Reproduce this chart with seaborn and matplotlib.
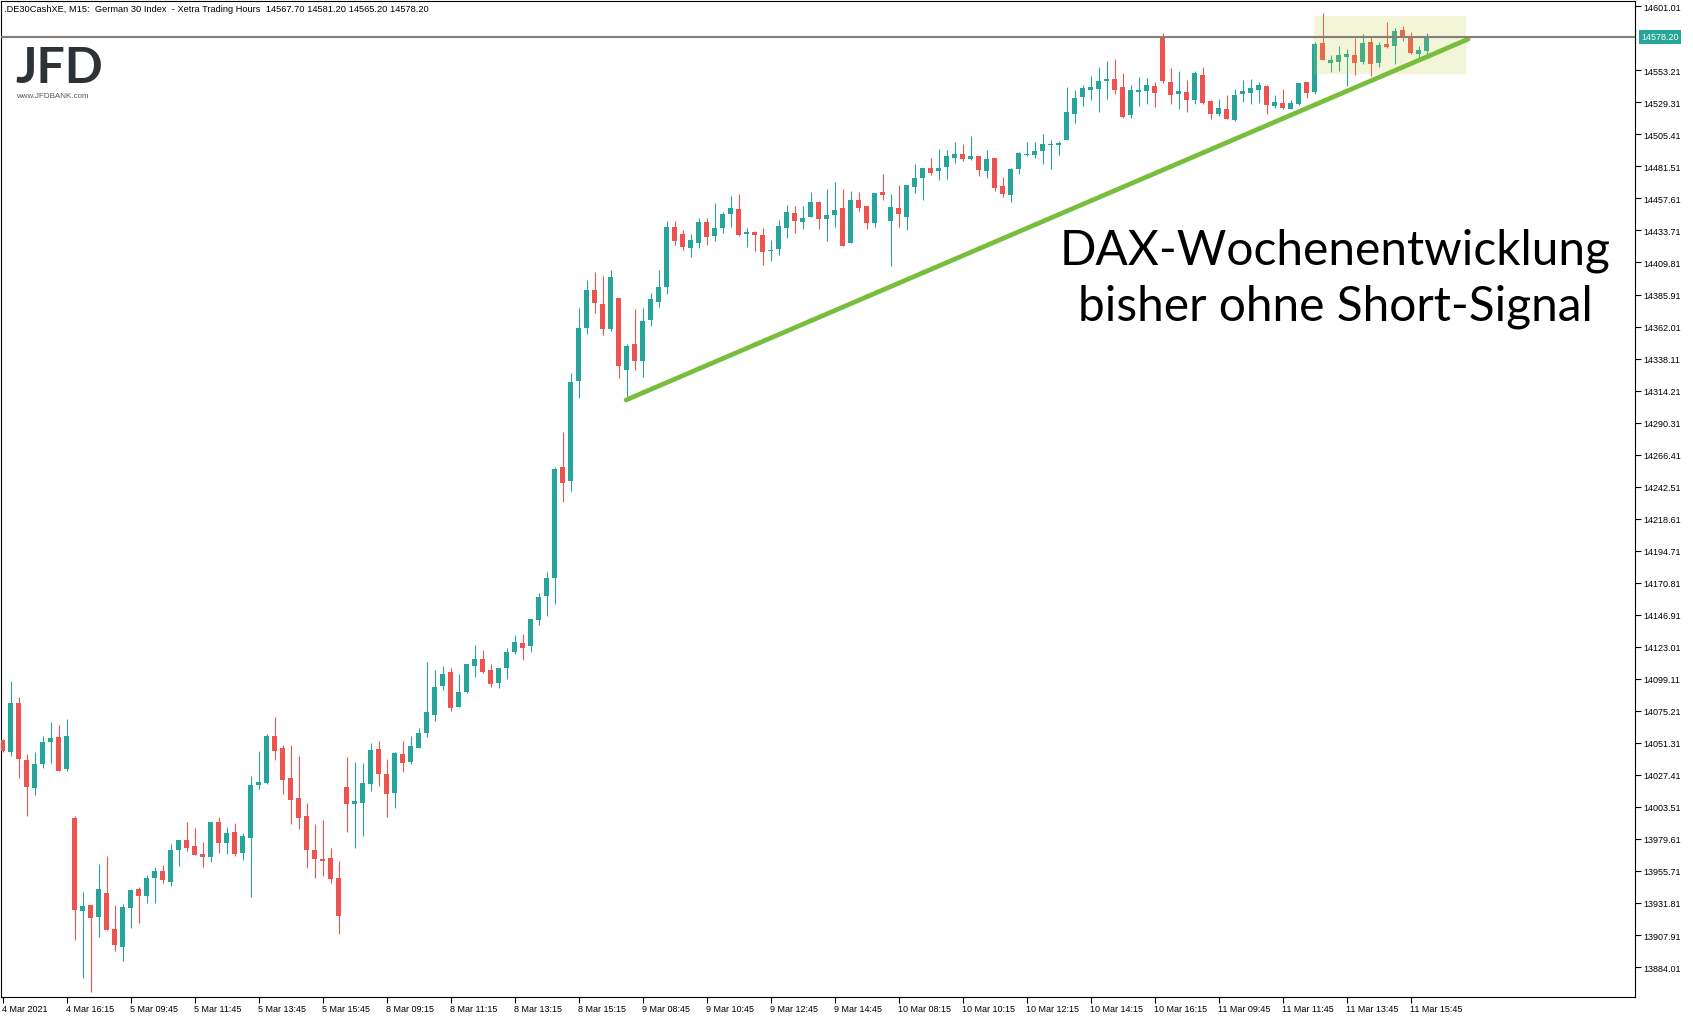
import numpy as np
import pandas as pd
import seaborn as sns
import matplotlib.pyplot as plt
from matplotlib.patches import Rectangle

# DAX 15 min candles, 4 Mar 2021 14:15 .. 11 Mar 2021 16:15 (Xetra hours)
opens = [
    14053.5, 14044.7, 14081.1, 14038.5, 14017.9, 14035.8, 14051.9, 14055.7, 14032.1, 13995.2,
    13926.1, 13930.3, 13921.6, 13939.3, 13912.4, 13899.2, 13928.3, 13942.3, 13937.3, 13950.7,
    13955.7, 13947.7, 13971.6, 13978.8, 13974.3, 13968.4, 13966.4, 13992.3, 13976.8, 13984.8,
    13969.4, 13980.6, 14020.1, 14021.6, 14056.4, 14047.5, 14025.1, 14010.2, 13996.7, 13971.6,
    13964.9, 13965.4, 13950.5, 14018.4, 14005.9, 14006.7, 14020.9, 14046.7, 14028.1, 14014.1,
    14043.0, 14037.3, 14047.7, 14058.9, 14072.4, 14094.0, 14104.2, 14078.3, 14089.5, 14108.9,
    14113.9, 14105.7, 14096.2, 14107.4, 14119.4, 14125.8, 14123.9, 14143.3, 14161.2, 14174.6,
    14257.2, 14247.0, 14321.6, 14361.2, 14389.3, 14378.8, 14360.4, 14383.3, 14329.8, 14349.0,
    14336.5, 14367.1, 14380.6, 14391.8, 14436.0, 14431.0, 14420.9, 14424.4, 14440.0, 14429.8,
    14435.8, 14446.3, 14449.7, 14431.3, 14432.6, 14430.3, 14418.4, 14420.1, 14435.8, 14446.7,
    14440.3, 14444.0, 14455.0, 14442.5, 14445.5, 14450.5, 14424.4, 14456.4, 14452.0, 14439.5,
    14462.4, 14441.0, 14450.5, 14444.0, 14466.4, 14473.1, 14480.3, 14478.3, 14481.3, 14488.0,
    14490.8, 14487.3, 14489.3, 14478.3, 14487.8, 14466.9, 14460.4, 14479.8, 14490.0, 14490.3,
    14493.3, 14497.7, 14497.7, 14501.5, 14520.9, 14533.6, 14538.8, 14539.5, 14545.5, 14546.8,
    14540.8, 14520.1, 14537.3, 14538.0, 14541.5, 14579.1, 14544.5, 14535.8, 14537.1, 14531.3,
    14549.7, 14530.3, 14520.9, 14524.4, 14516.4, 14535.6, 14536.6, 14538.5, 14541.5, 14526.8,
    14528.9, 14524.4, 14528.1, 14544.5, 14537.1, 14573.6, 14558.9, 14559.4, 14563.4, 14564.7,
    14559.7, 14574.4, 14558.9, 14572.9, 14571.6, 14583.3, 14578.8, 14565.7, 14567.7,
]
highs = [
    14054.5, 14097.5, 14085.3, 14043.0, 14044.2, 14056.4, 14066.9, 14064.6, 14069.1, 13996.7,
    13940.0, 13930.3, 13960.9, 13966.9, 13930.3, 13931.1, 13942.3, 13943.7, 13952.7, 13958.7,
    13960.2, 13975.8, 13978.8, 13992.5, 13987.8, 13977.3, 13992.3, 13996.0, 13988.5, 13991.5,
    13984.0, 14026.6, 14045.2, 14057.9, 14070.6, 14049.7, 14049.7, 14041.5, 14006.4, 13991.0,
    13993.7, 13972.9, 13963.1, 14040.8, 14037.0, 14036.3, 14051.2, 14052.7, 14039.3, 14044.5,
    14052.7, 14056.4, 14062.4, 14111.7, 14105.7, 14108.7, 14107.2, 14102.7, 14110.2, 14124.4,
    14120.6, 14110.2, 14107.2, 14122.1, 14131.8, 14132.6, 14143.7, 14163.2, 14178.8, 14257.2,
    14283.3, 14327.3, 14375.9, 14396.8, 14402.7, 14399.7, 14404.2, 14383.3, 14349.0, 14375.1,
    14375.9, 14387.0, 14404.2, 14441.0, 14440.5, 14434.0, 14431.0, 14443.0, 14443.0, 14454.2,
    14447.5, 14459.4, 14460.9, 14435.5, 14433.3, 14435.5, 14426.6, 14441.5, 14452.7, 14452.0,
    14452.0, 14462.4, 14455.7, 14464.7, 14469.9, 14464.7, 14463.2, 14462.4, 14452.0, 14461.7,
    14475.9, 14460.9, 14467.6, 14467.6, 14483.3, 14480.3, 14487.8, 14494.5, 14493.8, 14499.7,
    14498.2, 14504.2, 14489.3, 14493.8, 14487.8, 14473.6, 14480.3, 14492.3, 14499.7, 14499.7,
    14505.7, 14501.2, 14500.5, 14540.5, 14538.5, 14542.3, 14549.0, 14555.7, 14560.2, 14561.7,
    14551.2, 14542.3, 14548.2, 14547.5, 14544.5, 14581.1, 14555.0, 14552.7, 14546.0, 14552.7,
    14555.7, 14531.1, 14531.8, 14534.8, 14539.3, 14546.0, 14546.8, 14544.5, 14542.3, 14534.8,
    14539.3, 14531.1, 14543.8, 14544.5, 14574.4, 14596.0, 14564.7, 14571.4, 14569.1, 14577.4,
    14580.3, 14578.1, 14574.4, 14589.3, 14584.8, 14586.3, 14581.8, 14571.4, 14581.2,
]
lows = [
    14044.5, 14041.8, 14025.1, 13997.0, 14012.7, 14032.8, 14036.5, 14030.3, 14030.6, 13904.2,
    13875.8, 13865.1, 13906.7, 13911.9, 13896.2, 13888.8, 13913.4, 13917.1, 13932.1, 13932.1,
    13947.0, 13944.7, 13959.7, 13970.9, 13967.9, 13958.9, 13962.7, 13969.4, 13968.6, 13967.1,
    13964.1, 13936.5, 14016.9, 14020.9, 14038.8, 14013.4, 13991.0, 13987.3, 13958.2, 13950.7,
    13952.2, 13947.0, 13908.9, 13985.0, 13973.1, 13982.0, 14015.6, 14019.4, 13996.2, 14002.9,
    14029.8, 14035.8, 14047.7, 14055.9, 14067.9, 14091.0, 14075.3, 14078.3, 14088.8, 14100.7,
    14103.7, 14093.3, 14092.5, 14099.2, 14117.9, 14113.4, 14119.4, 14139.5, 14146.2, 14155.2,
    14231.3, 14239.5, 14308.9, 14356.7, 14372.4, 14356.0, 14358.9, 14323.9, 14306.7, 14329.8,
    14324.6, 14362.7, 14376.8, 14386.6, 14423.1, 14419.4, 14414.2, 14421.0, 14422.9, 14425.9,
    14432.1, 14436.6, 14429.8, 14421.4, 14418.4, 14407.9, 14410.9, 14415.4, 14428.3, 14432.1,
    14435.1, 14444.0, 14435.1, 14425.9, 14436.6, 14422.1, 14424.4, 14448.5, 14435.1, 14436.6,
    14456.7, 14407.4, 14436.6, 14434.3, 14461.9, 14456.7, 14475.4, 14471.6, 14472.1, 14484.3,
    14485.8, 14486.5, 14474.6, 14473.1, 14463.4, 14458.9, 14455.2, 14476.1, 14489.5, 14488.0,
    14483.6, 14479.8, 14490.3, 14501.5, 14514.2, 14526.9, 14531.3, 14522.4, 14532.1, 14535.8,
    14517.9, 14517.9, 14526.9, 14528.4, 14526.1, 14544.0, 14528.4, 14524.6, 14522.4, 14528.4,
    14528.4, 14517.2, 14519.4, 14517.2, 14515.2, 14529.9, 14528.4, 14529.1, 14520.9, 14525.2,
    14524.4, 14524.4, 14527.4, 14532.6, 14535.6, 14560.9, 14552.2, 14552.9, 14541.8, 14550.0,
    14558.2, 14549.2, 14556.0, 14570.1, 14558.2, 14575.1, 14565.7, 14561.2, 14565.2,
]
closes = [
    14045.5, 14081.1, 14039.5, 14018.6, 14035.5, 14051.9, 14054.9, 14030.3, 14056.4, 13926.8,
    13929.6, 13920.9, 13942.3, 13911.9, 13900.7, 13928.8, 13941.5, 13937.3, 13950.5, 13955.7,
    13949.2, 13971.4, 13978.8, 13973.1, 13967.9, 13966.4, 13992.3, 13976.8, 13984.0, 13968.6,
    13981.8, 14019.9, 14022.1, 14056.4, 14045.5, 14023.8, 14008.9, 13995.5, 13971.6, 13964.9,
    13963.4, 13950.0, 13922.4, 14005.9, 14007.9, 14021.4, 14046.0, 14028.3, 14013.4, 14043.7,
    14036.5, 14049.0, 14058.7, 14074.3, 14093.0, 14102.7, 14077.6, 14089.3, 14110.2, 14113.9,
    14104.5, 14095.5, 14107.2, 14119.1, 14126.6, 14122.4, 14143.7, 14160.2, 14174.3, 14255.7,
    14245.5, 14320.6, 14360.9, 14389.3, 14379.8, 14360.4, 14399.0, 14332.8, 14347.5, 14336.5,
    14366.2, 14382.6, 14391.5, 14436.5, 14426.0, 14421.6, 14426.6, 14440.0, 14429.1, 14435.5,
    14446.0, 14450.5, 14430.6, 14432.6, 14430.6, 14417.9, 14419.1, 14437.0, 14447.5, 14441.0,
    14443.0, 14455.0, 14442.5, 14445.3, 14449.0, 14422.1, 14456.4, 14450.7, 14439.5, 14461.7,
    14460.4, 14451.2, 14446.3, 14467.6, 14472.9, 14480.3, 14476.8, 14480.3, 14489.3, 14490.8,
    14487.3, 14489.3, 14479.1, 14487.0, 14465.6, 14461.2, 14479.6, 14491.5, 14490.8, 14493.0,
    14498.2, 14498.2, 14499.0, 14522.1, 14532.6, 14540.0, 14540.8, 14545.3, 14546.0, 14538.8,
    14518.6, 14538.5, 14537.8, 14542.3, 14536.6, 14545.5, 14535.1, 14537.8, 14531.3, 14551.2,
    14529.1, 14520.9, 14525.1, 14517.2, 14534.8, 14537.8, 14540.0, 14542.3, 14527.6, 14529.6,
    14525.4, 14528.9, 14543.8, 14536.3, 14572.9, 14560.9, 14560.9, 14564.7, 14565.4, 14558.9,
    14573.6, 14558.2, 14572.1, 14570.9, 14582.6, 14577.6, 14566.4, 14568.4, 14578.2,
]

# one label every 8 bars
time_labels = [
    "4 Mar 2021", "4 Mar 16:15", "5 Mar 09:45", "5 Mar 11:45", "5 Mar 13:45", "5 Mar 15:45",
    "8 Mar 09:15", "8 Mar 11:15", "8 Mar 13:15", "8 Mar 15:15", "9 Mar 08:45", "9 Mar 10:45",
    "9 Mar 12:45", "9 Mar 14:45", "10 Mar 08:15", "10 Mar 10:15", "10 Mar 12:15",
    "10 Mar 14:15", "10 Mar 16:15", "11 Mar 09:45", "11 Mar 11:45", "11 Mar 13:45",
    "11 Mar 15:45",
]

# right price scale
price_ticks = [round(14601.01 - 23.9 * k, 2) for k in range(31) if k != 1]

last_price = 14578.20
header = (".DE30CashXE, M15:  German 30 Index  - Xetra Trading Hours  "
          "14567.70 14581.20 14565.20 14578.20")

# trend line (bar index, price) and highlight box
trend_x = [77.94, 183.2]
trend_y = [14307.2, 14576.5]
box_x = (163.9, 182.9)
box_y = (14550.3, 14593.5)

UP = "#26a69a"
DOWN = "#ef5350"

sns.set_theme(style="white")
plt.rcParams["font.family"] = ["Liberation Sans", "DejaVu Sans"]

df = pd.DataFrame({"open": opens, "high": highs, "low": lows, "close": closes})
df["bar"] = np.arange(len(df))
df["color"] = np.where(df["close"] >= df["open"], UP, DOWN)

W, H = 1693, 1020
fig = plt.figure(figsize=(W / 100, H / 100), dpi=100)
ax = fig.add_axes([1 / W, (H - 998) / H, 1634 / W, 996 / H])

# candles
ax.vlines(df["bar"], df["low"], df["high"], colors=df["color"], lw=0.8, zorder=2)
body = np.maximum((df["close"] - df["open"]).abs(), 0.9)
ax.bar(df["bar"], body, bottom=np.minimum(df["open"], df["close"]), width=0.625,
       color=df["color"], linewidth=0, zorder=3)

# highlight box on top of the last candles
ax.add_patch(Rectangle((box_x[0], box_y[0]), box_x[1] - box_x[0], box_y[1] - box_y[0],
                       facecolor="#c3cd41", alpha=0.2, edgecolor="none", zorder=4))

# trend line
sns.lineplot(x=trend_x, y=trend_y, ax=ax, color="#78be3c", lw=3.4,
             solid_capstyle="round", zorder=5, legend=False)

# bid / ask lines
ax.axhline(last_price + 0.9, color=DOWN, lw=0.8, zorder=6)
ax.axhline(last_price, color=UP, lw=0.8, zorder=6)

ax.set_xlim((1 - 2.5) / 8, (1635 - 2.5) / 8)
ax.set_ylim(14606.46 - 0.7463 * 998, 14606.46 - 0.7463 * 2)

ax.yaxis.tick_right()
ax.set_yticks(price_ticks)
ax.set_yticklabels([f"{p:.2f}" for p in price_ticks])
ax.set_xticks(np.arange(len(time_labels)) * 8)
ax.set_xticklabels(time_labels, ha="left")
ax.tick_params(axis="y", direction="out", length=4, width=0.8, labelsize=6.5, pad=2,
               colors="black", right=True, left=False)
ax.tick_params(axis="x", direction="out", length=4, width=0.8, labelsize=6.5, pad=1,
               colors="black", bottom=True)
ax.set_xlabel("")
ax.set_ylabel("")
for s in ax.spines.values():
    s.set_color("black")
    s.set_linewidth(0.8)
ax.grid(False)

# last price tag on the scale
ax.annotate(f"{last_price:.2f}", xy=(1.0, last_price), xycoords=("axes fraction", "data"),
            xytext=(4.5, 0), textcoords="offset points", ha="left", va="center",
            fontsize=6.5, color="white", annotation_clip=False,
            bbox=dict(boxstyle="square,pad=0.25", facecolor=UP, edgecolor="none"))

# header and logo
fig.text(4 / W, 1 - 9 / H, header, fontsize=6.7, color="black", va="center", ha="left")
fig.text(15 / W, 1 - 83 / H, "JFD", fontsize=36, fontweight="bold", color="#2d3237",
         family=["Lato", "DejaVu Sans"], va="baseline", ha="left")
fig.text(16 / W, 1 - 96 / H, "www.JFDBANK.com", fontsize=5.8, color="#555a5f",
         va="center", ha="left")

# annotation
ax.text(0.8164, (998 - 264.5) / 996, "DAX-Wochenentwicklung", transform=ax.transAxes,
        fontsize=34.5, family=["Lato", "DejaVu Sans"], ha="center", va="baseline", color="black")
ax.text(0.8164, (998 - 320.7) / 996, "bisher ohne Short-Signal", transform=ax.transAxes,
        fontsize=34.5, family=["Lato", "DejaVu Sans"], ha="center", va="baseline", color="black")

fig.savefig("out.png", dpi=100, facecolor="white")
